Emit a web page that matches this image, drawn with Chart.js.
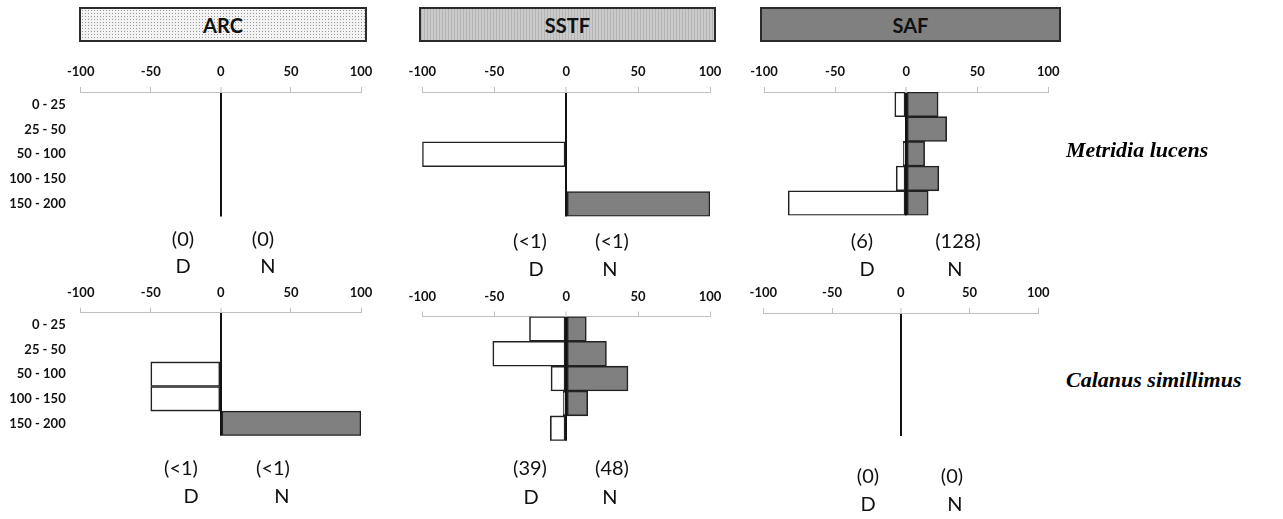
<!DOCTYPE html>
<html><head><meta charset="utf-8">
<script src="https://cdn.jsdelivr.net/npm/chart.js@4"></script>
<style>
body{margin:0;background:#fff;width:1283px;height:519px;position:relative;overflow:hidden;font-family:Lato,sans-serif;}
canvas{position:absolute;z-index:0;}
.hdr{position:absolute;top:7px;height:31px;border:2px solid #2b2b2b;font:bold 20px Lato;display:flex;align-items:center;justify-content:center;color:#111;}
.ann{position:absolute;z-index:2;width:80px;height:20px;text-align:center;font:20px Lato;line-height:20px;color:#111;white-space:nowrap;}
.sp{position:absolute;z-index:2;font:bold italic 22px "Liberation Serif";line-height:22px;height:22px;color:#000;white-space:nowrap;}
</style></head><body>
<script>
// ---- data ----
const depths = ['0 - 25', '25 - 50', '50 - 100', '100 - 150', '150 - 200'];
const regions = ['ARC', 'SSTF', 'SAF'];
const species = ['Metridia lucens', 'Calanus simillimus'];
const xMin = -100, xMax = 100, xStep = 50;

const mlArcDay = [0, 0, 0, 0, 0];
const mlArcNight = [0, 0, 0, 0, 0];
const mlSstfDay = [0, 0, -100, 0, 0];
const mlSstfNight = [0, 0, 0, 0, 100];
const mlSafDay = [-8, 0, -2, -7, -83];
const mlSafNight = [22.5, 28.5, 13, 23, 15.5];

const csArcDay = [0, 0, -50, -50, 0];
const csArcNight = [0, 0, 0, 0, 100];
const csSstfDay = [-25.5, -51, -10.5, -2, -11];
const csSstfNight = [14, 28, 43, 15, 0];
const csSafDay = [0, 0, 0, 0, 0];
const csSafNight = [0, 0, 0, 0, 0];

const mlCounts = [['(0)', '(0)'], ['(<1)', '(<1)'], ['(6)', '(128)']];
const csCounts = [['(<1)', '(<1)'], ['(39)', '(48)'], ['(0)', '(0)']];
const dnLabels = ['D', 'N'];

// ---- layout ----
const hdrBoxes = [[79, 284, 'radial-gradient(circle,#9a9a9a 0.7px,transparent 1px) 0 0/3px 3px, #f3f3f3'],
                  [419, 293, 'repeating-linear-gradient(90deg,#b4b4b4 0 1px,#cacaca 1px 3px)'],
                  [760, 297, '#808080']];
regions.forEach((r, i) => {
  const d = document.createElement('div');
  d.className = 'hdr';
  d.style.left = hdrBoxes[i][0] + 'px';
  d.style.width = hdrBoxes[i][1] + 'px';
  d.style.background = hdrBoxes[i][2];
  d.textContent = r;
  document.body.appendChild(d);
});

function makeChart(area, day, night, showY) {
  const cv = document.createElement('canvas');
  const cl = showY ? 0 : Math.floor(area.l - 30);
  const ct = Math.floor(area.t - 45);
  const cr = Math.ceil(area.r + 25);
  const cb = Math.ceil(area.b + 30);
  cv.width = cr - cl; cv.height = cb - ct;
  cv.style.left = cl + 'px'; cv.style.top = ct + 'px';
  document.body.appendChild(cv);
  new Chart(cv, {
    type: 'bar',
    data: { labels: depths, datasets: [
      { label: 'D', data: day, backgroundColor: '#ffffff', borderColor: '#222', borderWidth: 1.6, borderSkipped: false },
      { label: 'N', data: night, backgroundColor: '#808080', borderColor: '#222', borderWidth: 1.6, borderSkipped: false }
    ]},
    options: {
      indexAxis: 'y', responsive: false, animation: false, devicePixelRatio: 1,
      layout: { padding: { left: 0, top: 0, right: cr - area.r, bottom: cb - area.b } },
      plugins: { legend: { display: false }, tooltip: { enabled: false } },
      datasets: { bar: { categoryPercentage: 1, barPercentage: 1 } },
      scales: {
        x: {
          position: 'top', min: xMin, max: xMax, stacked: true,
          ticks: { stepSize: xStep, font: { family: 'Lato', weight: 'bold', size: 13 }, color: '#111', padding: 7, maxRotation: 0 },
          grid: {
            drawOnChartArea: true,
            color: c => (c.tick && c.tick.value === 0) ? '#111' : 'rgba(0,0,0,0)',
            lineWidth: c => (c.tick && c.tick.value === 0) ? 2 : 1,
            tickColor: '#bfbfbf', tickLength: 5, tickWidth: 1
          },
          border: { display: true, color: '#bfbfbf', width: 1 },
          afterFit: s => { s.height = area.t - ct; }
        },
        y: {
          stacked: true, grid: { display: false, drawTicks: false }, border: { display: false },
          ticks: { display: showY, font: { family: 'Lato', weight: 'bold', size: 13 }, color: '#111', padding: 15 },
          afterFit: s => { s.width = area.l - cl; }
        }
      }
    }
  });
}

const areas = [
  [{ l: 80.7, r: 361, t: 92, b: 216.5 }, { l: 422.3, r: 710, t: 92, b: 216.5 }, { l: 764, r: 1048.3, t: 92, b: 215.5 }],
  [{ l: 80.7, r: 361, t: 312.7, b: 435.7 }, { l: 422.3, r: 710, t: 316.5, b: 440.7 }, { l: 763.3, r: 1038.3, t: 313, b: 436 }]
];
const dayData = [[mlArcDay, mlSstfDay, mlSafDay], [csArcDay, csSstfDay, csSafDay]];
const nightData = [[mlArcNight, mlSstfNight, mlSafNight], [csArcNight, csSstfNight, csSafNight]];
for (let r = 0; r < 2; r++) for (let c = 0; c < 3; c++) makeChart(areas[r][c], dayData[r][c], nightData[r][c], c === 0);

// annotation positions: [countD x, countN x, count y, D x, N x, letter y]
const annPos = [
  [[183, 263, 238, 183, 268, 265], [530, 612, 240, 536, 610, 268], [862, 958, 240, 867, 955, 268]],
  [[181, 273, 467, 191, 282, 495], [530, 612, 467, 531, 610, 496], [868, 952, 475, 868, 955, 503]]
];
const counts = [mlCounts, csCounts];
function addText(cls, txt, x, y, centered) {
  const d = document.createElement('div');
  d.className = cls; d.textContent = txt;
  d.style.left = (centered ? x - 40 : x) + 'px';
  d.style.top = (y - 10) + 'px';
  document.body.appendChild(d);
}
for (let r = 0; r < 2; r++) for (let c = 0; c < 3; c++) {
  const p = annPos[r][c];
  addText('ann', counts[r][c][0], p[0], p[2], true);
  addText('ann', counts[r][c][1], p[1], p[2], true);
  addText('ann', dnLabels[0], p[3], p[5], true);
  addText('ann', dnLabels[1], p[4], p[5], true);
}
addText('sp', species[0], 1066, 149, false);
addText('sp', species[1], 1066, 379, false);
</script>
</body></html>
